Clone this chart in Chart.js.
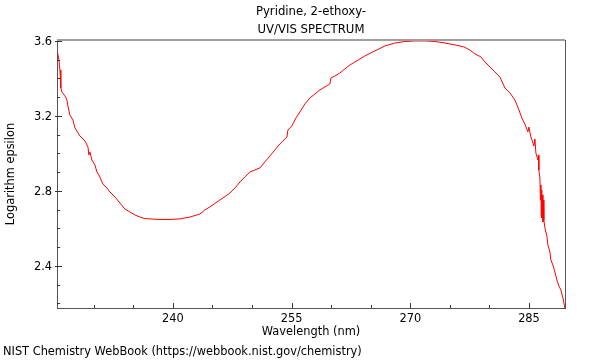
<!DOCTYPE html>
<html>
<head>
<meta charset="utf-8">
<script src="https://cdn.jsdelivr.net/npm/chart.js@4.4.1/dist/chart.umd.min.js"></script>
<style>
  html, body { margin: 0; padding: 0; background: #fff; }
  #wrap { width: 600px; height: 360px; }
</style>
</head>
<body>
<div id="wrap"><canvas id="uvchart"></canvas></div>
<script>
// wavelength (nm) and log(epsilon)
const wavelength = [
  225.40, 225.59, 225.72, 225.78, 225.82, 225.85, 225.97, 226.35, 226.60, 226.73,
  226.98, 227.36, 227.62, 228.25, 228.88, 229.26, 229.38, 229.51, 229.76, 230.14,
  230.40, 230.77, 231.15, 231.66, 232.04, 232.67, 233.30, 233.93, 234.57, 235.20,
  235.83, 236.46, 237.09, 238.36, 239.62, 240.88, 242.15, 243.41, 244.04, 244.68,
  245.94, 247.20, 247.84, 248.47, 249.10, 249.73, 250.36, 251.00, 251.63, 252.26,
  252.89, 253.52, 254.41, 254.53, 255.04, 255.54, 256.05, 256.68, 257.31, 257.95,
  258.58, 259.21, 259.84, 259.97, 260.47, 261.10, 261.74, 262.37, 263.00, 264.26,
  265.53, 266.79, 268.06, 269.32, 270.58, 271.85, 273.11, 274.37, 275.64, 276.77,
  277.53, 278.16, 278.92, 279.43, 280.06, 280.69, 281.32, 281.96, 282.59, 283.22,
  283.73, 284.10, 284.48, 284.86, 284.99, 285.24, 285.62, 285.75, 285.87, 286.13,
  286.19, 286.25, 286.38, 286.44, 286.51, 286.54, 286.59, 286.63, 286.69, 286.76,
  286.82, 286.88, 287.01, 287.26, 287.39, 287.64, 287.77, 288.02, 288.27, 288.53,
  288.78, 289.03, 289.29, 289.54
];
const logEpsilon = [
  3.541, 3.499, 3.445, 3.403, 3.445, 3.349, 3.328, 3.307, 3.285, 3.253,
  3.205, 3.179, 3.136, 3.093, 3.067, 3.035, 2.992, 3.008, 2.965, 2.939,
  2.901, 2.875, 2.837, 2.816, 2.795, 2.768, 2.736, 2.704, 2.688, 2.672,
  2.661, 2.653, 2.651, 2.648, 2.648, 2.651, 2.661, 2.677, 2.699, 2.715,
  2.752, 2.789, 2.816, 2.848, 2.875, 2.901, 2.912, 2.923, 2.955, 2.987,
  3.019, 3.051, 3.088, 3.125, 3.147, 3.189, 3.221, 3.264, 3.296, 3.317,
  3.339, 3.355, 3.371, 3.403, 3.413, 3.429, 3.451, 3.472, 3.488, 3.520,
  3.547, 3.573, 3.589, 3.597, 3.600, 3.600, 3.597, 3.589, 3.579, 3.568,
  3.552, 3.531, 3.515, 3.488, 3.461, 3.435, 3.408, 3.349, 3.323, 3.285,
  3.232, 3.189, 3.157, 3.115, 3.141, 3.088, 3.040, 3.077, 3.003, 2.965,
  2.992, 2.912, 2.869, 2.752, 2.832, 2.672, 2.805, 2.656, 2.779, 2.635,
  2.752, 2.645, 2.603, 2.560, 2.512, 2.475, 2.432, 2.405, 2.368, 2.325,
  2.293, 2.272, 2.229, 2.176
];
const xTicks = [240, 255, 270, 285];
const yTicks = [2.4, 2.8, 3.2, 3.6];
const xMinor = [230, 235, 245, 250, 260, 265, 275, 280];
const yMinor = [2.2, 2.3, 2.5, 2.6, 2.7, 2.9, 3.0, 3.1, 3.3, 3.4, 3.5];

const FONT = 'DejaVu Sans';

// ticks drawn inward, plus top/right frame and the texts
const frame = {
  id: 'frame',
  afterDraw(chart) {
    const c = chart.ctx, a = chart.chartArea;
    const xs = chart.scales.x, ys = chart.scales.y;
    c.save();
    c.strokeStyle = '#a0a0a0';
    c.lineWidth = 2;
    c.beginPath(); c.moveTo(a.left, a.top); c.lineTo(a.right, a.top); c.stroke();
    c.strokeStyle = '#555';
    c.lineWidth = 1;
    c.beginPath(); c.moveTo(a.right + 0.5, a.top); c.lineTo(a.right + 0.5, a.bottom); c.stroke();
    c.strokeStyle = '#333';
    c.beginPath();
    xTicks.forEach(v => { const p = Math.round(xs.getPixelForValue(v)) + 0.5; c.moveTo(p, a.bottom); c.lineTo(p, a.bottom - 5); });
    xMinor.forEach(v => { const p = Math.round(xs.getPixelForValue(v)) + 0.5; c.moveTo(p, a.bottom); c.lineTo(p, a.bottom - 3); });
    yTicks.forEach(v => { const p = Math.round(ys.getPixelForValue(v)) + 0.5; c.moveTo(a.left - 2, p); c.lineTo(a.left + 5, p); });
    yMinor.forEach(v => { const p = Math.round(ys.getPixelForValue(v)) + 0.5; c.moveTo(a.left, p); c.lineTo(a.left + 3, p); });
    c.stroke();
    c.fillStyle = '#000';
    c.font = '11.7px "' + FONT + '"';
    c.textBaseline = 'middle';
    c.textAlign = 'center';
    const cx = (a.left + a.right) / 2;
    c.fillText('Pyridine, 2-ethoxy-', cx, 12);
    c.fillText('UV/VIS SPECTRUM', cx, 30);
    c.font = '11.4px "' + FONT + '"';
    c.textAlign = 'left';
    c.fillText('NIST Chemistry WebBook (https://webbook.nist.gov/chemistry)', 3, 352);
    c.restore();
  }
};

Chart.defaults.font.family = FONT;
Chart.defaults.font.size = 11.4;
Chart.defaults.color = '#000';

const chart = new Chart(document.getElementById('uvchart').getContext('2d'), {
  type: 'line',
  data: {
    datasets: [{
      data: wavelength.map((w, i) => ({ x: w, y: logEpsilon[i] })),
      borderColor: '#ff0000',
      borderWidth: 1,
      pointRadius: 0,
      tension: 0,
      fill: false
    }]
  },
  options: {
    responsive: true,
    maintainAspectRatio: false,
    animation: false,
    layout: { padding: { top: 40, right: 35, left: 0, bottom: 0 } },
    plugins: {
      legend: { display: false },
      tooltip: { enabled: false }
    },
    scales: {
      x: {
        type: 'linear',
        min: 225.35,
        max: 289.55,
        afterFit: s => { s.height = 52; },
        afterBuildTicks: s => { s.ticks = xTicks.map(v => ({ value: v })); },
        grid: { display: false, drawTicks: false },
        border: { display: true, color: '#555', width: 1 },
        ticks: { padding: 4, maxRotation: 0, callback: v => String(v) },
        title: { display: true, text: 'Wavelength (nm)', padding: { top: 0, bottom: 21 } }
      },
      y: {
        min: 2.176,
        max: 3.605,
        afterFit: s => { s.width = 57; },
        afterBuildTicks: s => { s.ticks = yTicks.map(v => ({ value: v })); },
        grid: { display: false, drawTicks: false },
        border: { display: true, color: '#555', width: 1 },
        ticks: { padding: 5, labelOffset: 1.5, callback: v => v.toFixed(1) },
        title: { display: true, text: 'Logarithm epsilon', padding: { top: 4, bottom: 0 } }
      }
    }
  },
  plugins: [frame]
});
</script>
</body>
</html>
